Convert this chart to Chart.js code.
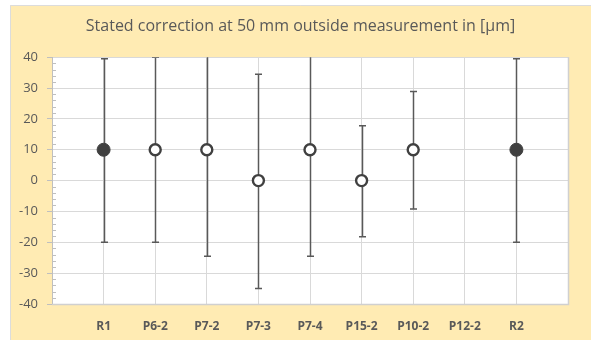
<!DOCTYPE html>
<html>
<head>
<meta charset="utf-8">
<script src="https://cdn.jsdelivr.net/npm/chart.js@4.4.1/dist/chart.umd.min.js"></script>
<style>
  html, body { margin: 0; padding: 0; background: #fff; }
  #wrap { width: 591px; height: 340px; position: relative; }
</style>
</head>
<body>
<div id="wrap"><canvas id="corr" width="591" height="340"></canvas></div>
<script>
// données
const categories = ['R1', 'P6-2', 'P7-2', 'P7-3', 'P7-4', 'P15-2', 'P10-2', 'P12-2', 'R2'];
const corrections = [10, 10, 10, 0, 10, 0, 10, null, 10];
const upperLimits = [39.5, 40, 46, 34.5, 46, 17.8, 28.9, null, 39.5];
const lowerLimits = [-20, -20, -24.5, -35, -24.5, -18.2, -9.2, null, -20];
const filled = [true, false, false, false, false, false, false, false, true];
const yTicks = [-40, -30, -20, -10, 0, 10, 20, 30, 40];

const cream = '#FFEBB3';
const grey = '#595959';

const fond = {
    id: 'fond',
    beforeDraw(chart) {
        const c = chart.ctx, a = chart.chartArea;
        c.save();
        c.fillStyle = '#fff';
        c.fillRect(0, 0, chart.width, chart.height);
        c.fillStyle = cream;
        c.fillRect(10, 5, chart.width - 10, chart.height - 5);
        c.strokeStyle = '#dcdcdc';
        c.lineWidth = 1;
        c.beginPath();
        c.moveTo(10.5, chart.height);
        c.lineTo(10.5, 5.5);
        c.lineTo(chart.width, 5.5);
        c.stroke();
        c.fillStyle = '#fff';
        c.fillRect(a.left, a.top, a.right - a.left, a.bottom - a.top);
        c.restore();
    },
    afterDraw(chart) {
        const c = chart.ctx, a = chart.chartArea, y = chart.scales.y;
        c.save();
        // cadre du tracé
        c.strokeStyle = '#d0d0d0';
        c.lineWidth = 1.5;
        c.beginPath();
        c.moveTo(a.left, a.bottom + 0.5);
        c.lineTo(a.right + 0.5, a.bottom + 0.5);
        c.lineTo(a.right + 0.5, a.top);
        c.stroke();
        // graduations secondaires
        c.strokeStyle = '#bfbfbf';
        c.lineWidth = 1;
        for (let v = -40; v <= 40; v += 2) {
            if (v % 10 === 0) continue;
            const py = Math.round(y.getPixelForValue(v)) + 0.5;
            c.beginPath();
            c.moveTo(a.left, py);
            c.lineTo(a.left + 4, py);
            c.stroke();
        }
        c.restore();
    }
};

// barres d'erreur dessinées avec les échelles
const barres = {
    id: 'barres',
    beforeDatasetsDraw(chart) {
        const c = chart.ctx, a = chart.chartArea;
        const x = chart.scales.x, y = chart.scales.y;
        c.save();
        c.beginPath();
        c.rect(a.left, a.top, a.right - a.left, a.bottom - a.top);
        c.clip();
        c.strokeStyle = grey;
        c.lineWidth = 1.5;
        categories.forEach((cat, i) => {
            if (upperLimits[i] === null) return;
            const px = Math.round(x.getPixelForValue(i + 1)) + 0.5;
            const top = y.getPixelForValue(upperLimits[i]);
            const bot = y.getPixelForValue(lowerLimits[i]);
            c.beginPath();
            c.moveTo(px, top);
            c.lineTo(px, bot);
            c.moveTo(px - 3.5, top);
            c.lineTo(px + 3.5, top);
            c.moveTo(px - 3.5, bot);
            c.lineTo(px + 3.5, bot);
            c.stroke();
        });
        c.restore();
    }
};

const points = corrections.map((v, i) => ({ x: i + 1, y: v }));

new Chart(document.getElementById('corr'), {
    type: 'scatter',
    data: {
        datasets: [{
            data: points,
            pointRadius: filled.map(f => f ? 6.5 : 5.5),
            pointBorderWidth: filled.map(f => f ? 1 : 2.4),
            pointBackgroundColor: filled.map(f => f ? '#404040' : '#fff'),
            pointBorderColor: '#404040',
            pointHoverRadius: 6,
        }]
    },
    options: {
        responsive: false,
        animation: false,
        devicePixelRatio: 1,
        layout: { padding: { left: 10, right: 0, top: 0, bottom: 0 } },
        scales: {
            x: {
                type: 'linear',
                min: 0,
                max: 10,
                afterBuildTicks: axis => {
                    axis.ticks = [0, 1, 2, 3, 4, 5, 6, 7, 8, 9, 10].map(v => ({ value: v }));
                },
                afterFit: axis => { axis.height = 36; },
                ticks: {
                    autoSkip: false,
                    maxRotation: 0,
                    padding: 15,
                    color: grey,
                    font: { family: 'Open Sans', size: 12, weight: 'bold' },
                    callback: v => categories[v - 1] || '',
                },
                grid: { color: '#d9d9d9', lineWidth: 1, drawTicks: false },
                border: { display: false },
            },
            y: {
                min: -40,
                max: 40,
                afterBuildTicks: axis => {
                    axis.ticks = yTicks.map(v => ({ value: v }));
                },
                afterFit: axis => { axis.width = 42; },
                ticks: {
                    padding: 9,
                    color: grey,
                    font: { family: 'Open Sans', size: 13 },
                },
                grid: { color: '#d9d9d9', lineWidth: 1, tickLength: 5, tickColor: '#bfbfbf' },
                border: { display: true, color: '#bfbfbf' },
            },
            marge: {
                type: 'linear',
                position: 'right',
                min: 0,
                max: 1,
                afterFit: axis => { axis.width = 23; },
                ticks: { display: false },
                grid: { display: false },
                border: { display: false },
            },
        },
        plugins: {
            legend: { display: false },
            tooltip: { enabled: false },
            title: {
                display: true,
                text: 'Stated correction at 50 mm outside measurement in [µm]',
                color: grey,
                font: { family: 'Open Sans', size: 16, weight: 'normal' },
                padding: { top: 17, bottom: 21 },
            },
        },
    },
    plugins: [fond, barres],
});
</script>
</body>
</html>
